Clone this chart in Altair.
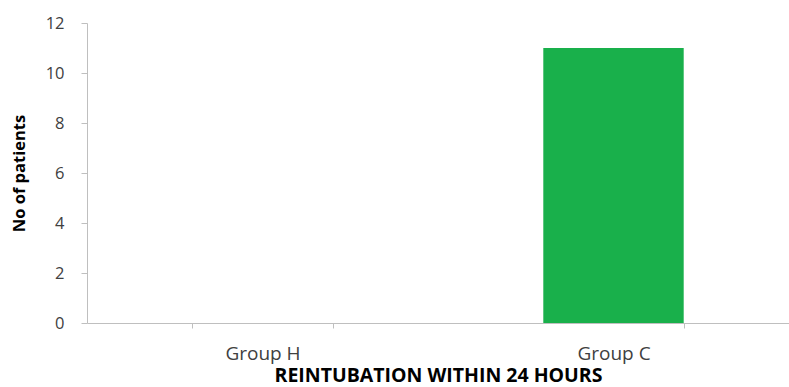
import altair as alt
import pandas as pd

groups = ["Group H", "Group C"]
patients = [0, 11]

df = pd.DataFrame({"group": groups, "patients": patients})

FONT = "Open Sans"
AXIS_GRAY = "#bfbfbf"
TEXT = "#404040"

chart = alt.Chart(df).mark_bar(color="#19b04b").encode(
    x=alt.X(
        "group:N",
        sort=groups,
        scale=alt.Scale(paddingInner=0.6, paddingOuter=0.3),
        axis=alt.Axis(
            title="REINTUBATION WITHIN 24 HOURS",
            labelAngle=0,
            labelFont=FONT,
            labelFontSize=19,
            labelColor=TEXT,
            labelPadding=16,
            tickBand="extent",
            tickSize=5,
            tickColor=AXIS_GRAY,
            domainColor=AXIS_GRAY,
            titleFont=FONT,
            titleFontSize=19.5,
            titleFontWeight="bold",
            titleColor="#000000",
            titlePadding=3,
        ),
    ),
    y=alt.Y(
        "patients:Q",
        scale=alt.Scale(domain=[0, 12]),
        axis=alt.Axis(
            title="No of patients",
            values=[0, 2, 4, 6, 8, 10, 12],
            grid=False,
            labelFont=FONT,
            labelFontSize=16.5,
            labelColor=TEXT,
            labelPadding=17,
            tickSize=6,
            tickColor=AXIS_GRAY,
            domainColor=AXIS_GRAY,
            titleFont=FONT,
            titleFontSize=16.5,
            titleFontWeight="bold",
            titleColor="#000000",
            titlePadding=18,
        ),
    ),
).properties(
    width=702,
    height=300,
    padding={"left": 87, "top": 23, "right": 0, "bottom": 64},
    autosize=alt.AutoSizeParams(type="none"),
).configure_view(stroke=None)

chart.save("out.html", embed_options={"renderer": "svg", "actions": False})
